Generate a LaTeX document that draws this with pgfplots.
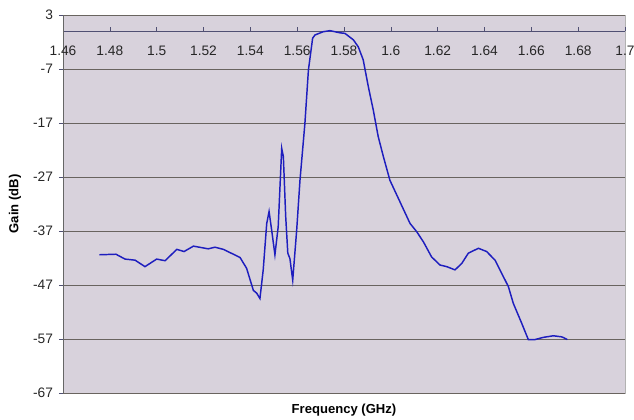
\documentclass[border=0pt]{standalone}
\usepackage{pgfplots}
\pgfplotsset{compat=1.18}
\usepackage{fontspec}
\setmainfont{Liberation Sans}
\definecolor{bgc}{RGB}{216,210,220}
\definecolor{gridc}{RGB}{105,100,95}
\definecolor{axc}{RGB}{80,80,115}
\definecolor{curve}{RGB}{30,30,190}
\begin{document}
\begin{tikzpicture}
\begin{axis}[
  scale only axis,
  width=421.5pt, height=283.5pt,
  xmin=1.46, xmax=1.7, ymin=-67, ymax=3,
  axis x line=middle, axis y line=left,
  hide obscured x ticks=false,
  x axis line style={-, color=axc, line width=0.8pt},
  y axis line style={-, color=gray!80!black, line width=0.6pt},
  axis background/.style={fill=bgc, draw=gray!60},
  xtick distance=0.02,
  ytick={-67,-57,-47,-37,-27,-17,-7,3},
  xtick align=inside,
  ytick align=outside,
  major tick length=3pt,
  tick style={color=axc, line width=0.5pt},
  ymajorgrids,
  major grid style={color=gridc, line width=0.6pt},
  /pgf/number format/assume math mode=true,
  /pgf/number format/fixed,
  /pgf/number format/precision=2,
  tick label style={font=\fontsize{10.3}{12}\selectfont, color=black!85},
  xticklabel style={yshift=-7.5pt},
  yticklabel style={xshift=-1pt},
  xlabel={\textbf{Frequency (GHz)}},
  ylabel={\textbf{Gain (dB)}},
  label style={font=\fontsize{9.8}{11}\selectfont},
  xlabel style={at={(axis description cs:0.5,0)}, anchor=north, yshift=-5pt},
  ylabel style={at={(axis description cs:-0.0854,0.5)}, anchor=center, rotate=0},
  clip=false,
]
\addplot[color=curve, line width=1.1pt] coordinates {
(1.4755,-41.4) (1.4826,-41.3) (1.4865,-42.2) (1.4908,-42.4) (1.4950,-43.6)
(1.5000,-42.2) (1.5036,-42.5) (1.5086,-40.4) (1.5117,-40.8) (1.5157,-39.8)
(1.5220,-40.3) (1.5249,-40.0) (1.5285,-40.4) (1.5356,-41.9) (1.5384,-43.9)
(1.5413,-48.0) (1.5427,-48.5) (1.5441,-49.5) (1.5455,-44.2) (1.5470,-35.6)
(1.5480,-33.4) (1.5491,-36.8) (1.5505,-41.4) (1.5519,-36.2) (1.5534,-21.7)
(1.5541,-23.2) (1.5551,-34.3) (1.5560,-41.1) (1.5569,-42.1) (1.5581,-46.1)
(1.5598,-36.8) (1.5612,-27.6) (1.5633,-17.1) (1.5648,-7.2) (1.5666,-1.3)
(1.5676,-0.7) (1.5711,-0.1) (1.5740,0.1) (1.5783,-0.3) (1.5804,-0.4)
(1.5840,-1.6) (1.5861,-2.9) (1.5882,-5.3) (1.5904,-10.3) (1.5925,-14.6)
(1.5946,-19.5) (1.5968,-23.2) (1.5996,-27.6) (1.6039,-31.6) (1.6082,-35.6)
(1.6110,-37.1) (1.6139,-39.0) (1.6174,-41.8) (1.6210,-43.3) (1.6239,-43.6)
(1.6274,-44.2) (1.6303,-43.0) (1.6331,-41.1) (1.6374,-40.2) (1.6409,-40.8)
(1.6445,-42.4) (1.6473,-44.8) (1.6502,-47.3) (1.6523,-50.4) (1.6559,-54.1)
(1.6587,-57.1) (1.6616,-57.1) (1.6651,-56.7) (1.6694,-56.4) (1.6730,-56.6)
(1.6754,-57.1)
};
\end{axis}
\pgfresetboundingbox
\path (current axis.south west) ++(-47.25pt,-19.5pt) coordinate (bbsw);
\path (current axis.north east) ++(6.75pt,11.25pt) coordinate (bbne);
\useasboundingbox (bbsw) rectangle (bbne);
\end{tikzpicture}
\end{document}
